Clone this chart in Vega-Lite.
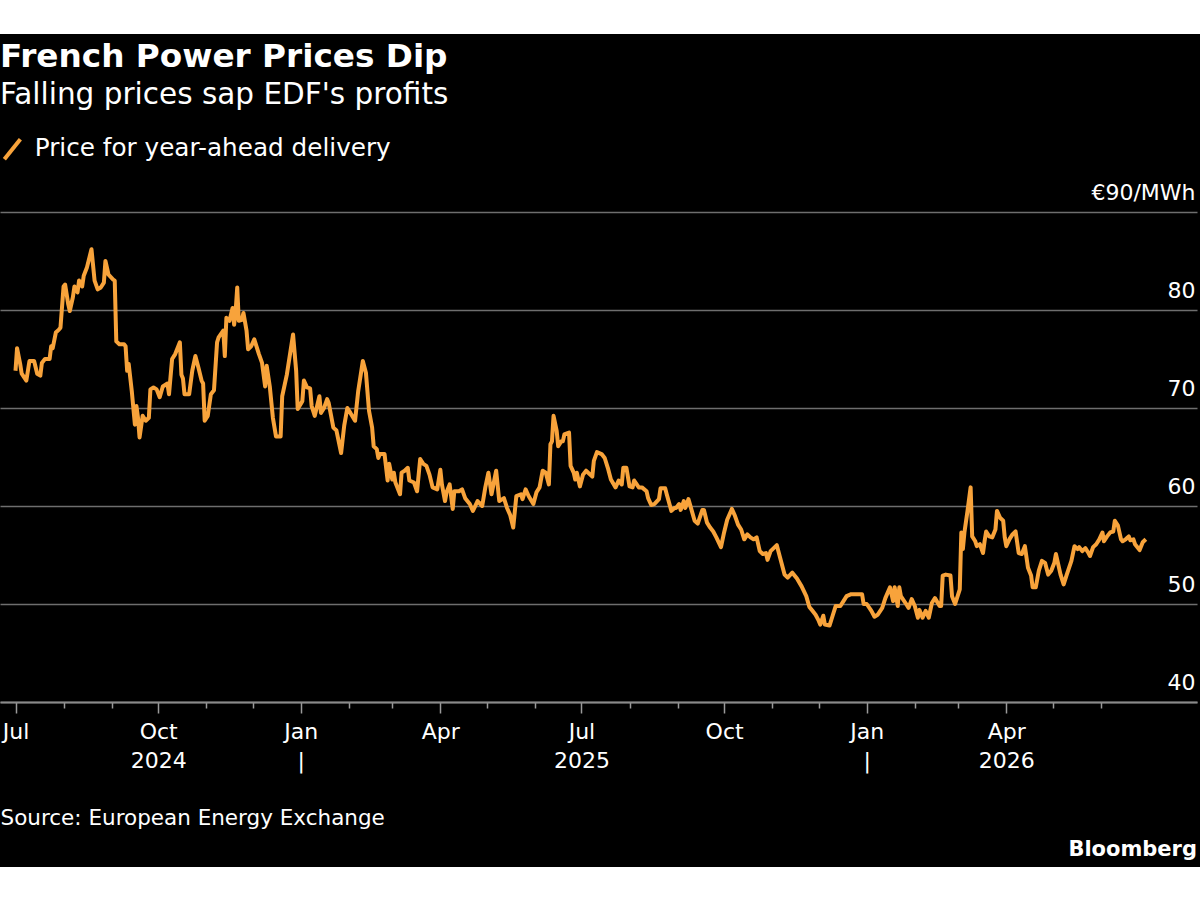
{
  "$schema": "https://vega.github.io/schema/vega-lite/v6.json",
  "background": "black",
  "padding": {"left": 0, "right": 0, "top": 0, "bottom": 7},
  "spacing": 27,
  "resolve": {"scale": {"color": "independent"}, "legend": {"color": "independent"}},
  "config": {
    "font": "DejaVu Sans",
    "view": {"stroke": null}
  },
  "vconcat": [
    {
      "width": 1200,
      "height": 34,
      "data": {"values": [{"t": ""}]},
      "mark": {"type": "text", "opacity": 0},
      "encoding": {"text": {"field": "t", "type": "nominal"}},
      "view": {"fill": "white", "stroke": null},
      "title": {
        "text": "French Power Prices Dip",
        "subtitle": "Falling prices sap EDF's profits",
        "orient": "bottom",
        "anchor": "start",
        "frame": "group",
        "font": "DejaVu Sans",
        "fontSize": 32.7,
        "fontWeight": "bold",
        "color": "white",
        "subtitleFont": "DejaVu Sans",
        "subtitleFontSize": 29.5,
        "subtitleColor": "white",
        "subtitlePadding": 7,
        "offset": 7
      }
    },
    {
      "width": 1197,
      "height": 490,
      "data": {
        "values": [
          {"date": "2024-07-01", "price": 73.8}, {"date": "2024-07-02", "price": 76.1}, {"date": "2024-07-04", "price": 74.5}, {"date": "2024-07-05", "price": 73.5},
          {"date": "2024-07-08", "price": 72.8}, {"date": "2024-07-10", "price": 74.8}, {"date": "2024-07-13", "price": 74.8}, {"date": "2024-07-15", "price": 73.5},
          {"date": "2024-07-17", "price": 73.3}, {"date": "2024-07-18", "price": 74.6}, {"date": "2024-07-20", "price": 75.0}, {"date": "2024-07-23", "price": 75.0},
          {"date": "2024-07-24", "price": 76.3}, {"date": "2024-07-25", "price": 76.1}, {"date": "2024-07-27", "price": 77.7}, {"date": "2024-07-29", "price": 78.0},
          {"date": "2024-07-30", "price": 78.2}, {"date": "2024-08-01", "price": 82.4}, {"date": "2024-08-02", "price": 82.6}, {"date": "2024-08-04", "price": 80.6},
          {"date": "2024-08-05", "price": 79.9}, {"date": "2024-08-07", "price": 81.3}, {"date": "2024-08-08", "price": 82.4}, {"date": "2024-08-10", "price": 81.8},
          {"date": "2024-08-11", "price": 83.0}, {"date": "2024-08-13", "price": 82.4}, {"date": "2024-08-14", "price": 83.5}, {"date": "2024-08-16", "price": 84.3},
          {"date": "2024-08-19", "price": 86.2}, {"date": "2024-08-21", "price": 83.0}, {"date": "2024-08-23", "price": 82.1}, {"date": "2024-08-25", "price": 82.3},
          {"date": "2024-08-27", "price": 82.8}, {"date": "2024-08-28", "price": 85.0}, {"date": "2024-08-30", "price": 83.6}, {"date": "2024-09-02", "price": 83.1},
          {"date": "2024-09-03", "price": 83.0}, {"date": "2024-09-04", "price": 76.8}, {"date": "2024-09-06", "price": 76.5}, {"date": "2024-09-09", "price": 76.5},
          {"date": "2024-09-10", "price": 76.3}, {"date": "2024-09-11", "price": 73.8}, {"date": "2024-09-12", "price": 74.5}, {"date": "2024-09-14", "price": 71.7},
          {"date": "2024-09-16", "price": 68.3}, {"date": "2024-09-17", "price": 70.2}, {"date": "2024-09-18", "price": 69.0}, {"date": "2024-09-19", "price": 67.0},
          {"date": "2024-09-21", "price": 69.2}, {"date": "2024-09-23", "price": 68.7}, {"date": "2024-09-25", "price": 69.0}, {"date": "2024-09-26", "price": 71.9},
          {"date": "2024-09-28", "price": 72.1}, {"date": "2024-09-30", "price": 71.9}, {"date": "2024-10-02", "price": 71.1}, {"date": "2024-10-04", "price": 72.2},
          {"date": "2024-10-07", "price": 72.5}, {"date": "2024-10-08", "price": 71.4}, {"date": "2024-10-10", "price": 75.0}, {"date": "2024-10-12", "price": 75.5},
          {"date": "2024-10-15", "price": 76.7}, {"date": "2024-10-16", "price": 73.4}, {"date": "2024-10-17", "price": 73.0}, {"date": "2024-10-18", "price": 71.4},
          {"date": "2024-10-21", "price": 71.4}, {"date": "2024-10-23", "price": 73.8}, {"date": "2024-10-25", "price": 75.3}, {"date": "2024-10-27", "price": 74.1},
          {"date": "2024-10-29", "price": 72.8}, {"date": "2024-10-30", "price": 72.5}, {"date": "2024-10-31", "price": 68.7}, {"date": "2024-11-02", "price": 69.2},
          {"date": "2024-11-04", "price": 71.4}, {"date": "2024-11-06", "price": 71.8}, {"date": "2024-11-08", "price": 76.7}, {"date": "2024-11-09", "price": 77.2},
          {"date": "2024-11-12", "price": 77.9}, {"date": "2024-11-13", "price": 75.3}, {"date": "2024-11-14", "price": 79.2}, {"date": "2024-11-16", "price": 78.9},
          {"date": "2024-11-18", "price": 80.2}, {"date": "2024-11-19", "price": 78.5}, {"date": "2024-11-20", "price": 79.9}, {"date": "2024-11-21", "price": 82.3},
          {"date": "2024-11-22", "price": 78.9}, {"date": "2024-11-24", "price": 79.0}, {"date": "2024-11-25", "price": 79.7}, {"date": "2024-11-27", "price": 77.9},
          {"date": "2024-11-28", "price": 76.0}, {"date": "2024-11-30", "price": 76.3}, {"date": "2024-12-02", "price": 77.0}, {"date": "2024-12-05", "price": 75.5},
          {"date": "2024-12-07", "price": 74.6}, {"date": "2024-12-09", "price": 72.2}, {"date": "2024-12-10", "price": 74.3}, {"date": "2024-12-12", "price": 72.2},
          {"date": "2024-12-14", "price": 69.0}, {"date": "2024-12-16", "price": 67.1}, {"date": "2024-12-19", "price": 67.1}, {"date": "2024-12-20", "price": 71.2},
          {"date": "2024-12-23", "price": 73.4}, {"date": "2024-12-27", "price": 77.5}, {"date": "2024-12-29", "price": 73.8}, {"date": "2024-12-30", "price": 69.9},
          {"date": "2025-01-02", "price": 70.7}, {"date": "2025-01-03", "price": 72.8}, {"date": "2025-01-05", "price": 72.1}, {"date": "2025-01-07", "price": 72.0},
          {"date": "2025-01-08", "price": 70.2}, {"date": "2025-01-10", "price": 69.2}, {"date": "2025-01-13", "price": 71.2}, {"date": "2025-01-14", "price": 69.5},
          {"date": "2025-01-16", "price": 70.0}, {"date": "2025-01-18", "price": 70.9}, {"date": "2025-01-19", "price": 70.5}, {"date": "2025-01-22", "price": 68.0},
          {"date": "2025-01-24", "price": 67.7}, {"date": "2025-01-27", "price": 65.4}, {"date": "2025-01-29", "price": 68.2}, {"date": "2025-01-31", "price": 70.0},
          {"date": "2025-02-02", "price": 69.5}, {"date": "2025-02-05", "price": 68.7}, {"date": "2025-02-07", "price": 71.7}, {"date": "2025-02-10", "price": 74.8},
          {"date": "2025-02-12", "price": 73.6}, {"date": "2025-02-14", "price": 69.7}, {"date": "2025-02-16", "price": 68.0}, {"date": "2025-02-17", "price": 66.1},
          {"date": "2025-02-19", "price": 65.8}, {"date": "2025-02-20", "price": 64.9}, {"date": "2025-02-21", "price": 65.3}, {"date": "2025-02-23", "price": 65.3},
          {"date": "2025-02-24", "price": 65.3}, {"date": "2025-02-26", "price": 62.6}, {"date": "2025-02-27", "price": 64.3}, {"date": "2025-03-01", "price": 62.7},
          {"date": "2025-03-02", "price": 63.4}, {"date": "2025-03-03", "price": 62.4}, {"date": "2025-03-06", "price": 61.2}, {"date": "2025-03-07", "price": 63.4},
          {"date": "2025-03-09", "price": 63.6}, {"date": "2025-03-11", "price": 63.9}, {"date": "2025-03-12", "price": 62.6}, {"date": "2025-03-15", "price": 62.4},
          {"date": "2025-03-17", "price": 61.5}, {"date": "2025-03-19", "price": 64.8}, {"date": "2025-03-21", "price": 64.3}, {"date": "2025-03-23", "price": 64.1},
          {"date": "2025-03-25", "price": 63.2}, {"date": "2025-03-27", "price": 61.9}, {"date": "2025-03-30", "price": 61.7}, {"date": "2025-04-01", "price": 63.7},
          {"date": "2025-04-02", "price": 62.2}, {"date": "2025-04-04", "price": 60.5}, {"date": "2025-04-05", "price": 61.4}, {"date": "2025-04-07", "price": 62.2},
          {"date": "2025-04-09", "price": 59.7}, {"date": "2025-04-10", "price": 61.5}, {"date": "2025-04-13", "price": 61.5}, {"date": "2025-04-15", "price": 61.7},
          {"date": "2025-04-17", "price": 60.8}, {"date": "2025-04-20", "price": 60.2}, {"date": "2025-04-22", "price": 59.5}, {"date": "2025-04-25", "price": 60.5},
          {"date": "2025-04-28", "price": 60.0}, {"date": "2025-04-30", "price": 61.9}, {"date": "2025-05-02", "price": 63.4}, {"date": "2025-05-04", "price": 61.2},
          {"date": "2025-05-07", "price": 63.6}, {"date": "2025-05-09", "price": 60.5}, {"date": "2025-05-12", "price": 60.8}, {"date": "2025-05-14", "price": 59.8},
          {"date": "2025-05-16", "price": 59.1}, {"date": "2025-05-18", "price": 57.8}, {"date": "2025-05-20", "price": 61.0}, {"date": "2025-05-23", "price": 61.2},
          {"date": "2025-05-24", "price": 60.7}, {"date": "2025-05-26", "price": 61.7}, {"date": "2025-05-28", "price": 61.0}, {"date": "2025-05-31", "price": 60.2},
          {"date": "2025-06-02", "price": 61.4}, {"date": "2025-06-04", "price": 61.9}, {"date": "2025-06-06", "price": 63.6}, {"date": "2025-06-08", "price": 63.4},
          {"date": "2025-06-10", "price": 62.2}, {"date": "2025-06-11", "price": 66.3}, {"date": "2025-06-12", "price": 66.6}, {"date": "2025-06-13", "price": 69.2},
          {"date": "2025-06-15", "price": 67.7}, {"date": "2025-06-16", "price": 66.1}, {"date": "2025-06-18", "price": 66.6}, {"date": "2025-06-19", "price": 66.6},
          {"date": "2025-06-20", "price": 67.3}, {"date": "2025-06-23", "price": 67.5}, {"date": "2025-06-24", "price": 64.1}, {"date": "2025-06-26", "price": 63.4},
          {"date": "2025-06-27", "price": 62.7}, {"date": "2025-06-28", "price": 63.4}, {"date": "2025-06-30", "price": 62.0}, {"date": "2025-07-02", "price": 63.2},
          {"date": "2025-07-04", "price": 63.6}, {"date": "2025-07-08", "price": 63.0}, {"date": "2025-07-09", "price": 64.6}, {"date": "2025-07-11", "price": 65.5},
          {"date": "2025-07-14", "price": 65.3}, {"date": "2025-07-16", "price": 64.9}, {"date": "2025-07-18", "price": 63.9}, {"date": "2025-07-20", "price": 62.7},
          {"date": "2025-07-23", "price": 61.9}, {"date": "2025-07-25", "price": 62.6}, {"date": "2025-07-27", "price": 62.2}, {"date": "2025-07-28", "price": 63.9},
          {"date": "2025-07-30", "price": 63.9}, {"date": "2025-08-01", "price": 62.0}, {"date": "2025-08-03", "price": 61.9}, {"date": "2025-08-04", "price": 62.6},
          {"date": "2025-08-07", "price": 61.9}, {"date": "2025-08-09", "price": 61.9}, {"date": "2025-08-12", "price": 61.5}, {"date": "2025-08-13", "price": 60.8},
          {"date": "2025-08-15", "price": 60.1}, {"date": "2025-08-17", "price": 60.2}, {"date": "2025-08-20", "price": 60.7}, {"date": "2025-08-21", "price": 61.8},
          {"date": "2025-08-24", "price": 61.8}, {"date": "2025-08-25", "price": 61.2}, {"date": "2025-08-28", "price": 59.5}, {"date": "2025-08-30", "price": 59.8},
          {"date": "2025-08-31", "price": 59.8}, {"date": "2025-09-02", "price": 60.2}, {"date": "2025-09-03", "price": 59.6}, {"date": "2025-09-05", "price": 60.5},
          {"date": "2025-09-06", "price": 59.8}, {"date": "2025-09-08", "price": 60.7}, {"date": "2025-09-10", "price": 59.6}, {"date": "2025-09-12", "price": 58.5},
          {"date": "2025-09-14", "price": 58.2}, {"date": "2025-09-17", "price": 59.6}, {"date": "2025-09-18", "price": 59.6}, {"date": "2025-09-20", "price": 58.3},
          {"date": "2025-09-22", "price": 57.8}, {"date": "2025-09-24", "price": 57.4}, {"date": "2025-09-26", "price": 56.8}, {"date": "2025-09-29", "price": 55.8},
          {"date": "2025-10-01", "price": 57.3}, {"date": "2025-10-03", "price": 58.6}, {"date": "2025-10-06", "price": 59.7}, {"date": "2025-10-08", "price": 59.0},
          {"date": "2025-10-10", "price": 58.1}, {"date": "2025-10-12", "price": 57.6}, {"date": "2025-10-14", "price": 56.6}, {"date": "2025-10-16", "price": 57.1},
          {"date": "2025-10-18", "price": 56.8}, {"date": "2025-10-20", "price": 56.6}, {"date": "2025-10-22", "price": 56.8}, {"date": "2025-10-24", "price": 55.4},
          {"date": "2025-10-26", "price": 55.1}, {"date": "2025-10-28", "price": 55.2}, {"date": "2025-10-29", "price": 54.5}, {"date": "2025-10-31", "price": 55.4},
          {"date": "2025-11-02", "price": 55.7}, {"date": "2025-11-04", "price": 56.0}, {"date": "2025-11-06", "price": 54.8}, {"date": "2025-11-09", "price": 53.0},
          {"date": "2025-11-11", "price": 52.7}, {"date": "2025-11-14", "price": 53.2}, {"date": "2025-11-17", "price": 52.6}, {"date": "2025-11-20", "price": 51.8},
          {"date": "2025-11-23", "price": 50.8}, {"date": "2025-11-25", "price": 49.7}, {"date": "2025-11-27", "price": 49.3}, {"date": "2025-11-29", "price": 48.9},
          {"date": "2025-12-01", "price": 48.3}, {"date": "2025-12-02", "price": 47.9}, {"date": "2025-12-04", "price": 48.8}, {"date": "2025-12-05", "price": 47.9},
          {"date": "2025-12-08", "price": 47.8}, {"date": "2025-12-10", "price": 48.8}, {"date": "2025-12-12", "price": 49.8}, {"date": "2025-12-15", "price": 49.8},
          {"date": "2025-12-17", "price": 50.3}, {"date": "2025-12-19", "price": 50.8}, {"date": "2025-12-22", "price": 51.0}, {"date": "2025-12-25", "price": 51.0},
          {"date": "2025-12-29", "price": 51.0}, {"date": "2025-12-30", "price": 50.0}, {"date": "2026-01-01", "price": 50.0}, {"date": "2026-01-04", "price": 49.3},
          {"date": "2026-01-06", "price": 48.7}, {"date": "2026-01-08", "price": 48.9}, {"date": "2026-01-11", "price": 49.6}, {"date": "2026-01-13", "price": 50.6},
          {"date": "2026-01-16", "price": 51.7}, {"date": "2026-01-18", "price": 50.3}, {"date": "2026-01-19", "price": 51.7}, {"date": "2026-01-21", "price": 49.8},
          {"date": "2026-01-22", "price": 51.7}, {"date": "2026-01-23", "price": 50.8}, {"date": "2026-01-26", "price": 50.1}, {"date": "2026-01-28", "price": 49.6},
          {"date": "2026-01-30", "price": 50.5}, {"date": "2026-02-01", "price": 49.8}, {"date": "2026-02-03", "price": 48.6}, {"date": "2026-02-04", "price": 49.4},
          {"date": "2026-02-06", "price": 48.6}, {"date": "2026-02-08", "price": 49.3}, {"date": "2026-02-10", "price": 48.6}, {"date": "2026-02-12", "price": 50.1},
          {"date": "2026-02-14", "price": 50.6}, {"date": "2026-02-17", "price": 49.8}, {"date": "2026-02-18", "price": 49.8}, {"date": "2026-02-19", "price": 52.9},
          {"date": "2026-02-21", "price": 53.0}, {"date": "2026-02-24", "price": 52.9}, {"date": "2026-02-25", "price": 50.8}, {"date": "2026-02-27", "price": 50.0},
          {"date": "2026-03-02", "price": 51.5}, {"date": "2026-03-03", "price": 57.3}, {"date": "2026-03-04", "price": 55.6}, {"date": "2026-03-05", "price": 57.3},
          {"date": "2026-03-07", "price": 59.5}, {"date": "2026-03-09", "price": 61.9}, {"date": "2026-03-10", "price": 56.9}, {"date": "2026-03-12", "price": 56.4},
          {"date": "2026-03-13", "price": 55.9}, {"date": "2026-03-15", "price": 56.1}, {"date": "2026-03-17", "price": 55.2}, {"date": "2026-03-18", "price": 56.4},
          {"date": "2026-03-19", "price": 57.4}, {"date": "2026-03-21", "price": 56.9}, {"date": "2026-03-23", "price": 56.8}, {"date": "2026-03-25", "price": 57.6},
          {"date": "2026-03-26", "price": 59.5}, {"date": "2026-03-28", "price": 58.8}, {"date": "2026-03-30", "price": 58.5}, {"date": "2026-03-31", "price": 56.8},
          {"date": "2026-04-01", "price": 55.9}, {"date": "2026-04-03", "price": 56.6}, {"date": "2026-04-05", "price": 57.1}, {"date": "2026-04-07", "price": 57.4},
          {"date": "2026-04-09", "price": 55.2}, {"date": "2026-04-11", "price": 55.1}, {"date": "2026-04-13", "price": 55.9}, {"date": "2026-04-15", "price": 53.7},
          {"date": "2026-04-17", "price": 52.9}, {"date": "2026-04-18", "price": 51.7}, {"date": "2026-04-20", "price": 51.7}, {"date": "2026-04-22", "price": 53.4},
          {"date": "2026-04-24", "price": 54.4}, {"date": "2026-04-26", "price": 54.2}, {"date": "2026-04-28", "price": 53.0}, {"date": "2026-04-30", "price": 53.4},
          {"date": "2026-05-02", "price": 54.2}, {"date": "2026-05-03", "price": 55.1}, {"date": "2026-05-06", "price": 53.0}, {"date": "2026-05-08", "price": 52.0},
          {"date": "2026-05-10", "price": 53.0}, {"date": "2026-05-13", "price": 54.4}, {"date": "2026-05-15", "price": 55.9}, {"date": "2026-05-17", "price": 55.6},
          {"date": "2026-05-18", "price": 55.8}, {"date": "2026-05-20", "price": 55.4}, {"date": "2026-05-22", "price": 55.7}, {"date": "2026-05-24", "price": 55.2},
          {"date": "2026-05-25", "price": 54.9}, {"date": "2026-05-27", "price": 55.8}, {"date": "2026-05-29", "price": 56.1}, {"date": "2026-05-31", "price": 56.6},
          {"date": "2026-06-02", "price": 57.3}, {"date": "2026-06-03", "price": 56.4}, {"date": "2026-06-05", "price": 56.9}, {"date": "2026-06-07", "price": 57.3},
          {"date": "2026-06-09", "price": 57.4}, {"date": "2026-06-10", "price": 58.5}, {"date": "2026-06-12", "price": 58.0}, {"date": "2026-06-14", "price": 56.6},
          {"date": "2026-06-15", "price": 56.4}, {"date": "2026-06-17", "price": 56.6}, {"date": "2026-06-19", "price": 56.9}, {"date": "2026-06-20", "price": 56.5},
          {"date": "2026-06-22", "price": 56.6}, {"date": "2026-06-23", "price": 56.1}, {"date": "2026-06-26", "price": 55.5}, {"date": "2026-06-28", "price": 56.3},
          {"date": "2026-06-30", "price": 56.6}
        ]
      },
      "title": {
        "text": "Bloomberg",
        "orient": "bottom",
        "anchor": "end",
        "frame": "group",
        "font": "DejaVu Sans",
        "fontSize": 21,
        "fontWeight": "bold",
        "color": "white",
        "offset": 10
      },
      "mark": {"type": "line", "strokeWidth": 4, "strokeJoin": "round"},
      "encoding": {
        "x": {
          "field": "date",
          "type": "temporal",
          "scale": {
            "type": "utc",
            "domain": [
              {"year": 2024, "month": 6, "date": 21, "utc": true},
              {"year": 2026, "month": 8, "date": 2, "utc": true}
            ]
          },
          "axis": {
            "orient": "bottom",
            "values": [
              {"year": 2024, "month": 7, "date": 1, "utc": true}, {"year": 2024, "month": 8, "date": 1, "utc": true},
              {"year": 2024, "month": 9, "date": 1, "utc": true}, {"year": 2024, "month": 10, "date": 1, "utc": true},
              {"year": 2024, "month": 11, "date": 1, "utc": true}, {"year": 2024, "month": 12, "date": 1, "utc": true},
              {"year": 2025, "month": 1, "date": 1, "utc": true}, {"year": 2025, "month": 2, "date": 1, "utc": true},
              {"year": 2025, "month": 3, "date": 1, "utc": true}, {"year": 2025, "month": 4, "date": 1, "utc": true},
              {"year": 2025, "month": 5, "date": 1, "utc": true}, {"year": 2025, "month": 6, "date": 1, "utc": true},
              {"year": 2025, "month": 7, "date": 1, "utc": true}, {"year": 2025, "month": 8, "date": 1, "utc": true},
              {"year": 2025, "month": 9, "date": 1, "utc": true}, {"year": 2025, "month": 10, "date": 1, "utc": true},
              {"year": 2025, "month": 11, "date": 1, "utc": true}, {"year": 2025, "month": 12, "date": 1, "utc": true},
              {"year": 2026, "month": 1, "date": 1, "utc": true}, {"year": 2026, "month": 2, "date": 1, "utc": true},
              {"year": 2026, "month": 3, "date": 1, "utc": true}, {"year": 2026, "month": 4, "date": 1, "utc": true},
              {"year": 2026, "month": 5, "date": 1, "utc": true}, {"year": 2026, "month": 6, "date": 1, "utc": true}
            ],
            "labelExpr": "utcmonth(datum.value) % 3 != 0 ? '' : [utcFormat(datum.value, '%b'), utcmonth(datum.value) == 0 ? '|' : ((utcFormat(datum.value, '%Y-%m') == '2024-10' || utcFormat(datum.value, '%Y-%m') == '2025-07' || utcFormat(datum.value, '%Y-%m') == '2026-04') ? utcFormat(datum.value, '%Y') : '')]",
            "title": "Source: European Energy Exchange",
            "titleAnchor": "start",
            "titleAlign": "left",
            "titleColor": "white",
            "titleFont": "DejaVu Sans",
            "titleFontSize": 21.5,
            "titleFontWeight": "normal",
            "titlePadding": 36,
            "grid": false,
            "domain": true,
            "domainColor": "#8a8a8a",
            "domainWidth": 2,
            "ticks": true,
            "tickSize": {"condition": {"test": "utcmonth(datum.value) % 3 == 0", "value": 11}, "value": 6},
            "tickColor": "#9a9a9a",
            "tickWidth": 1.5,
            "labelColor": "white",
            "labelFont": "DejaVu Sans",
            "labelFontSize": 22,
            "labelLineHeight": 29,
            "labelPadding": 8,
            "labelFlush": false,
            "labelBound": false,
            "labelOverlap": false
          }
        },
        "y": {
          "field": "price",
          "type": "quantitative",
          "scale": {"domain": [40, 90], "nice": false, "zero": false},
          "axis": {
            "orient": "right",
            "values": [40, 50, 60, 70, 80, 90],
            "labelExpr": "datum.value == 90 ? '€90/MWh' : datum.label",
            "title": null,
            "domain": false,
            "ticks": false,
            "tickSize": 0,
            "grid": true,
            "gridColor": "#6e6e6e",
            "gridWidth": 1.5,
            "labelAlign": "right",
            "labelBaseline": "alphabetic",
            "labelPadding": -2,
            "labelOffset": -13,
            "labelColor": "white",
            "labelFont": "DejaVu Sans",
            "labelFontSize": 22,
            "labelBound": false,
            "labelOverlap": false
          }
        },
        "color": {
          "datum": "Price for year-ahead delivery",
          "scale": {"range": ["#f8a33b"]},
          "legend": {
            "orient": "top",
            "title": null,
            "symbolType": "M-0.8,1L0.8,-1",
            "symbolSize": 400,
            "symbolStrokeWidth": 4,
            "labelFont": "DejaVu Sans",
            "labelFontSize": 24.7,
            "labelColor": "white",
            "labelLimit": 0,
            "labelOffset": 10,
            "offset": 44,
            "padding": 0
          }
        }
      }
    }
  ]
}
